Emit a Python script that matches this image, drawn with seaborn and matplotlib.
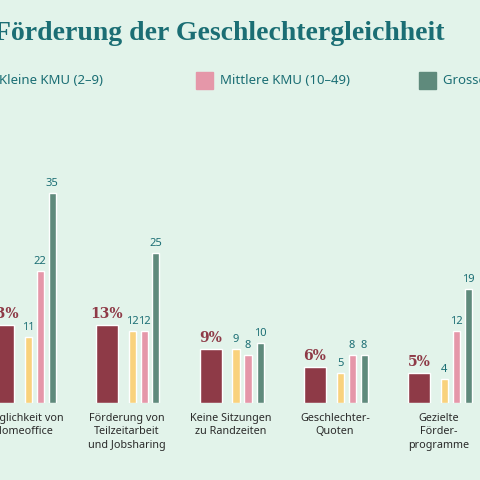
import matplotlib
matplotlib.use("Agg")
import matplotlib.pyplot as plt
import seaborn as sns
import numpy as np

categories = ["Möglichkeit von\nHomeoffice", "Förderung von\nTeilzeitarbeit\nund Jobsharing",
              "Keine Sitzungen\nzu Randzeiten", "Geschlechter-\nQuoten", "Gezielte\nFörder-\nprogramme"]
total = [13, 13, 9, 6, 5]
kleine = [11, 12, 9, 5, 4]
mittlere = [22, 12, 8, 8, 12]
grosse = [35, 25, 10, 8, 19]
series_names = ["Kleine KMU (2–9)", "Mittlere KMU (10–49)", "Grosse KMU (50–249)"]

BG = "#E2F3EA"
TEAL = "#1B6E74"
C_TOT = "#8E3A47"
C_S = ["#F9D27D", "#E597A9", "#5F8A7C"]

sns.set_theme(style="white")
plt.rcParams['font.family'] = ['Noto Sans', 'DejaVu Sans']

fig = plt.figure(figsize=(4.8, 4.8), dpi=100, facecolor=BG)
ax = fig.add_axes([-29/480, 1-403/480, 520/480, 240/480])
ax.set_facecolor(BG)
ax.set_xlim(-0.5, 4.5)
ax.set_ylim(0, 40)
ax.axis("off")

x = np.arange(len(categories))
u = 1/104
ax.bar(x - 20*u, total, width=22*u, color=C_TOT)
for xi, v in zip(x, total):
    ax.text(xi - 20*u, v + 0.6, f"{v}%", ha="center", va="bottom", color=C_TOT,
            fontsize=10, fontweight="bold", family="DejaVu Serif")
for vals, off, col in zip([kleine, mittlere, grosse], [5, 17, 29], C_S):
    ax.bar(x + off*u, vals, width=7*u, color=col)
    for xi, v in zip(x, vals):
        ax.text(xi + off*u, v + 0.6, str(v), ha="center", va="bottom", color=TEAL, fontsize=8)
for xi, c in zip(x, categories):
    ax.text(xi, -1.6, c, ha="center", va="top", color="#2a2a2a", fontsize=7.8,
            fontweight="medium", linespacing=1.35)

fig.text(-6/480, 1-40/480, "Förderung der Geschlechtergleichheit", color=TEAL,
         fontsize=20, fontweight="bold", family="Liberation Serif", va="baseline")
for name, col, sx in zip(series_names, C_S, [-25, 196, 419]):
    fig.patches.append(plt.Rectangle((sx/480, 1-89/480), 17/480, 17/480,
                                     transform=fig.transFigure, color=col))
    fig.text((sx+24)/480, 1-81/480, name, color=TEAL, fontsize=9.5, va="center")

fig.savefig("out.png", dpi=100, facecolor=BG)
